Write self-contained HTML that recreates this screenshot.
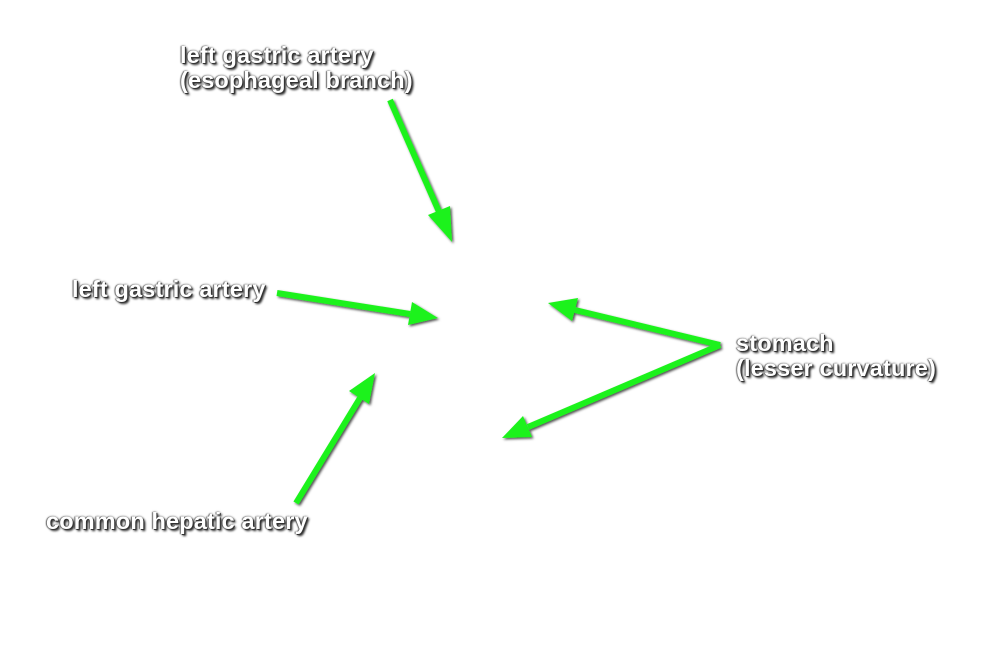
<!DOCTYPE html>
<html><head><style>
body{margin:0;width:1000px;height:664px;background:#fff;position:relative;overflow:hidden}
.t{position:absolute;font-family:"Liberation Sans",sans-serif;font-weight:bold;font-size:23.5px;line-height:25px;color:#fff;letter-spacing:0.15px;white-space:nowrap;
text-shadow:1px 1px 0 #333,2px 2px 2px #222,0 0 2px #555,-1px 0 1px #777}
svg{position:absolute;left:0;top:0}
</style></head><body>
<svg width="1000" height="664">
<defs>
<filter id="s"><feDropShadow dx="1.5" dy="1.5" stdDeviation="1.2" flood-color="#000" flood-opacity="0.7"/></filter>
</defs>
<g filter="url(#s)" fill="#1ef21e" stroke="#1ef21e" stroke-width="6" stroke-linecap="butt">
<line x1="390" y1="100" x2="440" y2="214"/>
<polygon stroke="none" points="452,242 428,215 450,206"/>
<line x1="277" y1="293" x2="410" y2="314"/>
<polygon stroke="none" points="438,318 408,325 412,302"/>
<line x1="296" y1="503" x2="360" y2="398"/>
<polygon stroke="none" points="375,373 369,404 349,391"/>
<line x1="720" y1="345" x2="575" y2="310"/>
<polygon stroke="none" points="548,303 578,298 572,321"/>
<line x1="720" y1="345" x2="528" y2="427"/>
<polygon stroke="none" points="502,438 523,416 532,437"/>
</g>
</svg>
<div class="t" style="left:180px;top:43px">left gastric artery<br>(esophageal branch)</div>
<div class="t" style="left:72px;top:277px">left gastric artery</div>
<div class="t" style="left:46px;top:509px">common hepatic artery</div>
<div class="t" style="left:736px;top:331px">stomach<br>(lesser curvature)</div>
</body></html>
